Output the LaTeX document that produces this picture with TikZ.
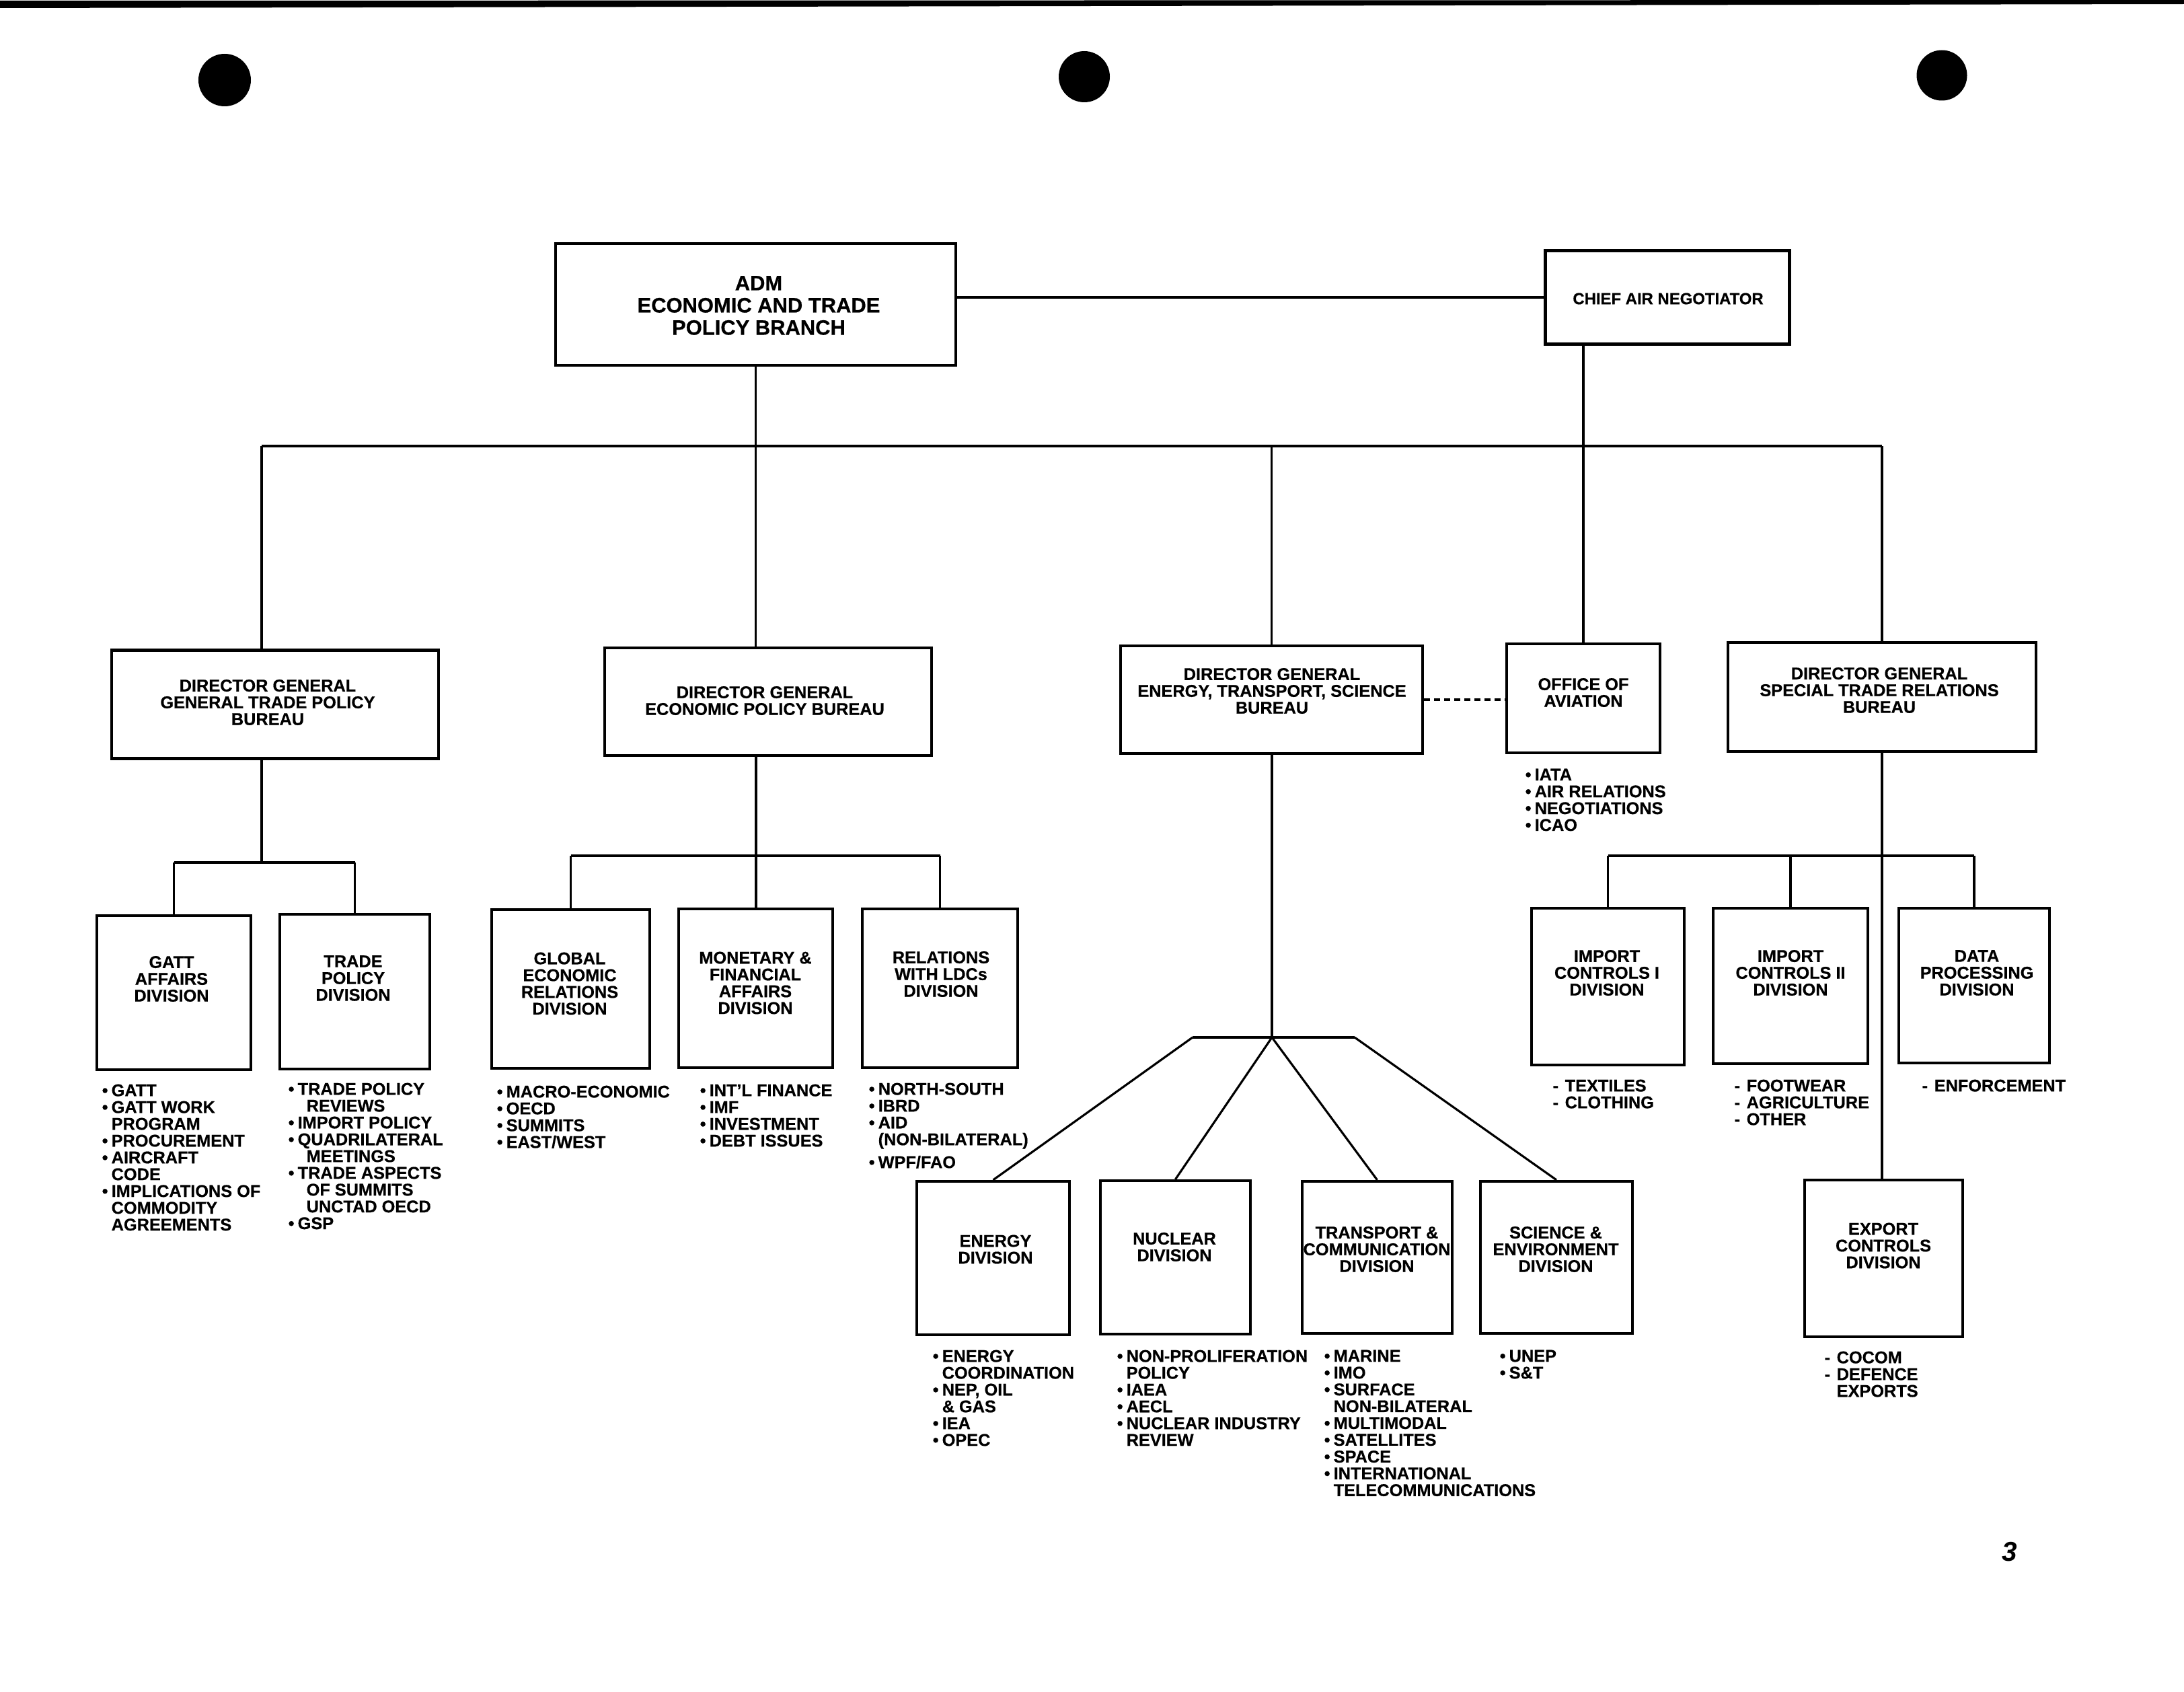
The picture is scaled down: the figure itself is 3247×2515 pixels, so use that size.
\documentclass[tikz,border=0pt]{standalone}
\usepackage{fontspec}
\setmainfont{Liberation Sans}[BoldFeatures={FakeBold=0.6}]
\newcommand\bu{\makebox[1.4mm][l]{•}}
\newcommand\bn{\hspace*{1.4mm}}
\newcommand\da{\makebox[1.8mm][l]{-}}
\newcommand\dn{\hspace*{1.8mm}}
\begin{document}
\begin{tikzpicture}[x=0.1mm,y=-0.1mm,
  bx/.style 2 args={draw,line width=1.2pt,inner sep=0pt,minimum width=#1mm,minimum height=#2mm},
  lbl/.style={inner sep=0pt,align=center,font=\bfseries\fontsize{7.2}{7.1}\selectfont},
  biglbl/.style={inner sep=0pt,align=center,font=\bfseries\fontsize{8.8}{9.4}\selectfont},
  smlbl/.style={inner sep=0pt,align=center,font=\bfseries\fontsize{6.8}{7}\selectfont},
  lst/.style={inner sep=0pt,anchor=north west,align=left,font=\bfseries\fontsize{7.2}{7.1}\selectfont},
  con/.style={line width=0.9pt},
  bus/.style={line width=1.2pt},
  dcon/.style={line width=0.9pt,dash pattern=on 0.9mm off 0.6mm}]
\useasboundingbox (0,0) rectangle (3247,2515);
% page edge and punch holes
\fill (0,1) -- (3247,0) -- (3247,6) -- (0,12) -- cycle;
\fill (334,119) circle[radius=3.9mm];
\fill (1612,114) circle[radius=3.8mm];
\fill (2887,112) circle[radius=3.75mm];
% top level
\node[bx={59.5}{18.1}] (adm) at (1123.5,452.5) {};
\node[biglbl] (admT) at (1128,454) {ADM\\ECONOMIC AND TRADE\\POLICY BRANCH};
\node[bx={36.3}{13.9}] (chief) at (2479,442) {};
\node[smlbl] (chiefT) at (2480,444) {CHIEF AIR NEGOTIATOR};
% director general level
\node[bx={48.6}{16.1}] (gtp) at (409,1047) {};
\node[lbl] (gtpT) at (398,1044) {DIRECTOR GENERAL\\GENERAL TRADE POLICY\\BUREAU};
\node[bx={48.6}{16.0}] (econ) at (1142,1043) {};
\node[lbl] (econT) at (1137,1041.5) {DIRECTOR GENERAL\\ECONOMIC POLICY BUREAU};
\node[bx={44.9}{16.0}] (ets) at (1890.5,1040) {};
\node[lbl] (etsT) at (1891,1027) {DIRECTOR GENERAL\\ENERGY, TRANSPORT, SCIENCE\\BUREAU};
\node[bx={22.8}{16.2}] (avi) at (2354,1038) {};
\node[lbl] (aviT) at (2354,1029.5) {OFFICE OF\\AVIATION};
\node[bx={45.8}{16.2}] (str) at (2798,1036) {};
\node[lbl] (strT) at (2794,1026) {DIRECTOR GENERAL\\SPECIAL TRADE RELATIONS\\BUREAU};
% divisions
\node[bx={22.9}{22.9}] (gatt) at (258.5,1475.5) {};
\node[lbl] (gattT) at (255,1455) {GATT\\AFFAIRS\\DIVISION};
\node[bx={22.3}{23.0}] (trade) at (527.5,1474) {};
\node[lbl] (tradeT) at (525,1454) {TRADE\\POLICY\\DIVISION};
\node[bx={23.5}{23.6}] (glob) at (848.5,1470) {};
\node[lbl] (globT) at (847,1462) {GLOBAL\\ECONOMIC\\RELATIONS\\DIVISION};
\node[bx={22.9}{23.6}] (mon) at (1123.5,1469) {};
\node[lbl] (monT) at (1123,1461) {MONETARY \&\\FINANCIAL\\AFFAIRS\\DIVISION};
\node[bx={23.1}{23.6}] (rel) at (1397.5,1469) {};
\node[lbl] (relT) at (1399,1448) {RELATIONS\\WITH LDCs\\DIVISION};
\node[bx={22.7}{22.8}] (energy) at (1476.5,1870) {};
\node[lbl] (energyT) at (1480,1857) {ENERGY\\DIVISION};
\node[bx={22.3}{22.8}] (nuc) at (1747.5,1869) {};
\node[lbl] (nucT) at (1746,1853.5) {NUCLEAR\\DIVISION};
\node[bx={22.3}{22.6}] (trans) at (2047.5,1869) {};
\node[lbl] (transT) at (2047,1857) {TRANSPORT \&\\COMMUNICATION\\DIVISION};
\node[bx={22.6}{22.6}] (sci) at (2314,1869) {};
\node[lbl] (sciT) at (2313,1857) {SCIENCE \&\\ENVIRONMENT\\DIVISION};
\node[bx={22.7}{23.3}] (impI) at (2390.5,1466.5) {};
\node[lbl] (impIT) at (2389,1446) {IMPORT\\CONTROLS I\\DIVISION};
\node[bx={23.0}{23.1}] (impII) at (2662,1465.5) {};
\node[lbl] (impIIT) at (2662,1446) {IMPORT\\CONTROLS II\\DIVISION};
\node[bx={22.4}{23.0}] (data) at (2935,1465) {};
\node[lbl] (dataT) at (2939,1446) {DATA\\PROCESSING\\DIVISION};
\node[bx={23.5}{23.3}] (exp) at (2800.5,1870.5) {};
\node[lbl] (expT) at (2800,1851.5) {EXPORT\\CONTROLS\\DIVISION};
% junction coordinates
\coordinate (busL) at (389,663);
\coordinate (gtpj) at (389,1282);
\coordinate (econj) at (1124,1272);
\coordinate (strj) at (2798,1272);
\coordinate (fanC) at (1891,1542);
\coordinate (fanL) at (1773,1542);
\coordinate (fanR) at (2014,1542);
% connectors
\draw[bus] (chief.west) -- (chief.west -| adm.east);
\draw[con] (adm.south) -- (adm.south |- econ.north);
\draw[bus] (busL) -- (str.north |- busL);
\draw[con] (busL) -- (busL |- gtp.north);
\draw[con] (ets.north |- busL) -- (ets.north);
\draw[con] (str.north |- busL) -- (str.north);
\draw[con] (avi.north |- chief.south) -- (avi.north);
\draw[dcon] (ets.east) -- (ets.east -| avi.west);
\draw[con] (busL |- gtp.south) -- (gtpj);
\draw[con] (gatt.north) -- (gatt.north |- gtpj);
\draw[bus] (gatt.north |- gtpj) -- (trade.north |- gtpj);
\draw[con] (trade.north |- gtpj) -- (trade.north);
\draw[con] (econ.south -| econj) -- (mon.north -| econj);
\draw[con] (glob.north) -- (glob.north |- econj);
\draw[bus] (glob.north |- econj) -- (rel.north |- econj);
\draw[con] (rel.north |- econj) -- (rel.north);
\draw[con] (ets.south -| fanC) -- (fanC);
\draw[bus] (fanL) -- (fanR);
\draw[con] (fanL) -- (energy.north);
\draw[con] (fanC) -- (nuc.north);
\draw[con] (fanC) -- (trans.north);
\draw[con] (fanR) -- (sci.north);
\draw[con] (str.south) -- (str.south |- exp.north);
\draw[con] (impI.north) -- (impI.north |- strj);
\draw[bus] (impI.north |- strj) -- (data.north |- strj);
\draw[con] (data.north |- strj) -- (data.north);
\draw[con] (impII.north) -- (impII.north |- strj);
% lists
\node[lst] (gattL) at (151,1611) {\bu GATT\\\bu GATT WORK\\\bn PROGRAM\\\bu PROCUREMENT\\\bu AIRCRAFT\\\bn CODE\\\bu IMPLICATIONS OF\\\bn COMMODITY\\\bn AGREEMENTS};
\node[lst] (tradeL) at (428,1609) {\bu TRADE POLICY\\\hspace*{2.7mm}REVIEWS\\\bu IMPORT POLICY\\\bu QUADRILATERAL\\\hspace*{2.7mm}MEETINGS\\\bu TRADE ASPECTS\\\hspace*{2.7mm}OF SUMMITS\\\hspace*{2.7mm}UNCTAD OECD\\\bu GSP};
\node[lst] (globL) at (738,1613) {\bu MACRO-ECONOMIC\\\bu OECD\\\bu SUMMITS\\\bu EAST/WEST};
\node[lst] (monL) at (1040,1611) {\bu INT'L FINANCE\\\bu IMF\\\bu INVESTMENT\\\bu DEBT ISSUES};
\node[lst] (relL) at (1291,1609) {\bu NORTH-SOUTH\\\bu IBRD\\\bu AID\\\bn (NON-BILATERAL)\\[0.9mm]\bu WPF/FAO};
\node[lst] (aviL) at (2267,1142) {\bu IATA\\\bu AIR RELATIONS\\\bu NEGOTIATIONS\\\bu ICAO};
\node[lst] (enL) at (1386,2006) {\bu ENERGY\\\bn COORDINATION\\\bu NEP, OIL\\\bn \& GAS\\\bu IEA\\\bu OPEC};
\node[lst] (nucL) at (1660,2006) {\bu NON-PROLIFERATION\\\bn POLICY\\\bu IAEA\\\bu AECL\\\bu NUCLEAR INDUSTRY\\\bn REVIEW};
\node[lst] (trL) at (1968,2006) {\bu MARINE\\\bu IMO\\\bu SURFACE\\\bn NON-BILATERAL\\\bu MULTIMODAL\\\bu SATELLITES\\\bu SPACE\\\bu INTERNATIONAL\\\bn TELECOMMUNICATIONS};
\node[lst] (sciL) at (2229,2006) {\bu UNEP\\\bu S\&T};
\node[lst] (impIL) at (2308,1604) {\da TEXTILES\\\da CLOTHING};
\node[lst] (impIIL) at (2578,1604) {\da FOOTWEAR\\\da AGRICULTURE\\\da OTHER};
\node[lst] (dataL) at (2857,1604) {\da ENFORCEMENT};
\node[lst] (expL) at (2712,2008) {\da COCOM\\\da DEFENCE\\\dn EXPORTS};
% page number
\node[inner sep=0pt,font=\bfseries\itshape\fontsize{11.5}{12}\selectfont] (pg) at (2988,2307) {3};
\end{tikzpicture}
\end{document}
